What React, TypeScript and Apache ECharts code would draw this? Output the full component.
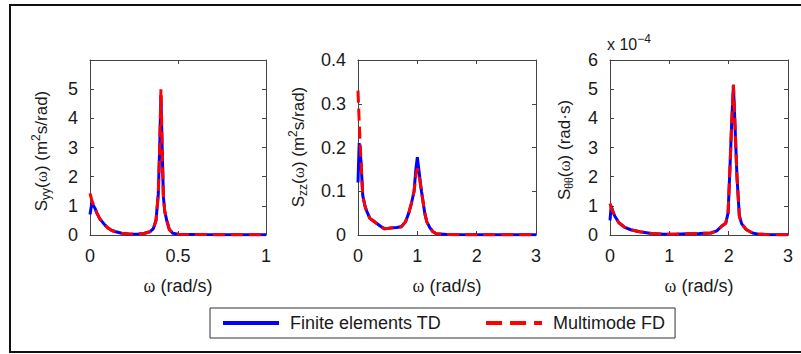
import { useEffect, useRef } from 'react';
import * as echarts from 'echarts';

// Sway spectrum S_yy (m^2 s/rad) over ω (rad/s)
const syyOmega = [0, 0.01, 0.02, 0.028, 0.04, 0.055, 0.07, 0.085, 0.1, 0.12, 0.14, 0.18, 0.22, 0.27, 0.31, 0.34, 0.36, 0.375, 0.388, 0.396, 0.403, 0.41, 0.417, 0.425, 0.436, 0.45, 0.47, 0.5, 0.6, 0.8, 1.0];
const syyTD = [0.7, 1.08, 1.0, 0.92, 0.74, 0.56, 0.45, 0.34, 0.25, 0.17, 0.12, 0.06, 0.035, 0.03, 0.06, 0.11, 0.22, 0.5, 1.4, 3.0, 4.8, 3.0, 1.3, 0.8, 0.5, 0.2, 0.06, 0.03, 0.015, 0.01, 0.01];
const syyFD = [1.43, 1.2, 1.03, 0.92, 0.74, 0.56, 0.45, 0.34, 0.25, 0.17, 0.12, 0.06, 0.035, 0.03, 0.06, 0.11, 0.22, 0.5, 1.4, 3.0, 5.0, 3.0, 1.3, 0.8, 0.5, 0.2, 0.06, 0.03, 0.015, 0.01, 0.01];

// Heave spectrum S_zz (m^2 s/rad)
const szzOmega = [0, 0.02, 0.05, 0.08, 0.12, 0.14, 0.2, 0.25, 0.3, 0.38, 0.45, 0.55, 0.65, 0.73, 0.8, 0.855, 0.9, 0.945, 0.975, 1.0, 1.025, 1.07, 1.125, 1.16, 1.21, 1.26, 1.32, 1.5, 2.0, 2.5, 3.0];
const szzTD = [0.12, 0.21, 0.17, 0.09, 0.065, 0.057, 0.038, 0.033, 0.028, 0.02, 0.014, 0.016, 0.017, 0.019, 0.03, 0.05, 0.072, 0.1, 0.15, 0.178, 0.15, 0.1, 0.05, 0.03, 0.017, 0.008, 0.003, 0.001, 0.0005, 0.0003, 0.0003];
const szzFD = [0.33, 0.26, 0.17, 0.09, 0.065, 0.057, 0.038, 0.033, 0.028, 0.02, 0.014, 0.016, 0.017, 0.019, 0.03, 0.05, 0.072, 0.1, 0.135, 0.152, 0.14, 0.1, 0.05, 0.03, 0.017, 0.008, 0.003, 0.001, 0.0005, 0.0003, 0.0003];

// Roll spectrum S_θθ (rad·s), in units of 10^-4
const sttOmegaTD = [0, 0.02, 0.05, 0.08, 0.15, 0.25, 0.35, 0.5, 0.7, 0.9, 1.1, 1.3, 1.5, 1.7, 1.8, 1.88, 1.95, 1.99, 2.02, 2.05, 2.08, 2.11, 2.14, 2.18, 2.22, 2.3, 2.4, 2.5, 2.7, 3.0];
const sttTD = [0.5, 1.0, 0.8, 0.65, 0.42, 0.26, 0.18, 0.11, 0.05, 0.03, 0.03, 0.04, 0.05, 0.07, 0.14, 0.3, 0.4, 0.75, 2.2, 3.8, 5.15, 3.6, 2.0, 0.65, 0.38, 0.18, 0.07, 0.03, 0.012, 0.005];
const sttOmegaFD = [0, 0.03, 0.08, 0.15, 0.25, 0.35, 0.5, 0.7, 0.9, 1.1, 1.3, 1.5, 1.7, 1.8, 1.88, 1.95, 1.99, 2.02, 2.05, 2.08, 2.11, 2.14, 2.18, 2.22, 2.3, 2.4, 2.5, 2.7, 3.0];
const sttFD = [1.08, 0.88, 0.65, 0.42, 0.26, 0.18, 0.11, 0.05, 0.03, 0.03, 0.04, 0.05, 0.07, 0.14, 0.3, 0.4, 0.75, 2.2, 3.8, 5.15, 3.6, 2.0, 0.65, 0.38, 0.18, 0.07, 0.03, 0.012, 0.005];

const seriesNames = ['Finite elements TD', 'Multimode FD'];

const SANS = '"Liberation Sans", Arial, Helvetica, sans-serif';
const SERIF = '"Liberation Serif", "Times New Roman", serif';
const INK = '#1a1a1a';
const AXIS = '#444';
const FS = 18;

const pairs = (xs: number[], ys: number[]) => xs.map((x, i) => [x, ys[i]]);

type Panel = {
  grid: { left: number; top: number; width: number; height: number };
  xMax: number;
  xStep: number;
  yMax: number;
  yStep: number;
  hideTopLabel: boolean;
  td: number[][];
  fd: number[][];
  yLabel: string;
};

const panels: Panel[] = [
  {
    grid: { left: 90, top: 60, width: 176, height: 175 },
    xMax: 1, xStep: 0.5, yMax: 6, yStep: 1, hideTopLabel: true,
    td: pairs(syyOmega, syyTD), fd: pairs(syyOmega, syyFD),
    yLabel: '{n|S}{sub|yy}{n|(}{w|ω}{n|) (m}{sup|2}{n|s/rad)}',
  },
  {
    grid: { left: 358, top: 60, width: 178, height: 175 },
    xMax: 3, xStep: 1, yMax: 0.4, yStep: 0.1, hideTopLabel: false,
    td: pairs(szzOmega, szzTD), fd: pairs(szzOmega, szzFD),
    yLabel: '{n|S}{sub|zz}{n|(}{w|ω}{n|) (m}{sup|2}{n|s/rad)}',
  },
  {
    grid: { left: 610, top: 60, width: 178, height: 175 },
    xMax: 3, xStep: 1, yMax: 6, yStep: 1, hideTopLabel: false,
    td: pairs(sttOmegaTD, sttTD), fd: pairs(sttOmegaFD, sttFD),
    yLabel: '{n|S}{subw|θθ}{n|(}{w|ω}{n|) (rad·s)}',
  },
];

const yLabelCenters = [
  [41, 151],
  [298, 147],
  [564, 150],
];

const richText = {
  n: { fontSize: 17, fontFamily: SANS, fill: INK, lineHeight: 22 },
  w: { fontSize: 17, fontFamily: SERIF, fill: INK, lineHeight: 22 },
  sub: { fontSize: 12, fontFamily: SANS, fill: INK, lineHeight: 12, verticalAlign: 'bottom' },
  subw: { fontSize: 12, fontFamily: SERIF, fill: INK, lineHeight: 12, verticalAlign: 'bottom' },
  sup: { fontSize: 12, fontFamily: SANS, fill: INK, lineHeight: 12, verticalAlign: 'top' },
};

function buildOption() {
  const grid = panels.map((p) => ({ ...p.grid, containLabel: false }));
  const xAxis: any[] = [];
  const yAxis: any[] = [];
  const series: any[] = [];
  const line = { show: true, onZero: false, lineStyle: { color: AXIS, width: 1 } };
  const tick = { show: true, inside: true, length: 4, lineStyle: { color: AXIS } };

  panels.forEach((p, i) => {
    const base = { type: 'value', gridIndex: i, min: 0, splitLine: { show: false }, axisLine: line, axisTick: tick };
    xAxis.push({
      ...base, max: p.xMax, interval: p.xStep, position: 'bottom',
      axisLabel: { show: true, margin: 12, fontSize: FS, fontFamily: SANS, color: INK, showMinLabel: true, showMaxLabel: true },
    });
    xAxis.push({ ...base, max: p.xMax, interval: p.xStep, position: 'top', axisLabel: { show: false } });
    yAxis.push({
      ...base, max: p.yMax, interval: p.yStep, position: 'left',
      axisLabel: {
        show: true, margin: 12, fontSize: FS, fontFamily: SANS, color: INK,
        formatter: (v: number) => (p.hideTopLabel && v === p.yMax ? '' : String(+v.toFixed(2))),
      },
    });
    yAxis.push({ ...base, max: p.yMax, interval: p.yStep, position: 'right', axisLabel: { show: false } });

    series.push({
      name: seriesNames[0], type: 'line', xAxisIndex: 2 * i, yAxisIndex: 2 * i,
      data: p.td, symbol: 'none', smooth: false,
      lineStyle: { color: '#0000ff', width: 3, type: 'solid' }, itemStyle: { color: '#0000ff' },
    });
    series.push({
      name: seriesNames[1], type: 'line', xAxisIndex: 2 * i, yAxisIndex: 2 * i,
      data: p.fd, symbol: 'none', smooth: false,
      lineStyle: { color: '#ff0000', width: 3, type: 'dashed' }, itemStyle: { color: '#ff0000' },
    });
  });

  const graphic: any[] = [
    {
      type: 'rect', silent: true,
      shape: { x: 10, y: 5, width: 820, height: 347 },
      style: { fill: 'none', stroke: '#111', lineWidth: 2 },
    },
  ];
  panels.forEach((p, i) => {
    const [cx, cy] = yLabelCenters[i];
    graphic.push({
      type: 'text', silent: true, x: cx, y: cy, rotation: Math.PI / 2,
      style: { text: p.yLabel, rich: richText, align: 'center', verticalAlign: 'middle' },
    });
    graphic.push({
      type: 'text', silent: true, x: p.grid.left + p.grid.width / 2, y: 286,
      style: {
        text: '{w|ω}{n| (rad/s)}',
        rich: { w: { ...richText.w, fontSize: 18 }, n: { ...richText.n, fontSize: 18 } },
        align: 'center', verticalAlign: 'middle',
      },
    });
  });
  graphic.push({
    type: 'text', silent: true, x: 607, y: 44,
    style: {
      text: '{n|x 10}{sup|−4}',
      rich: { n: { ...richText.n, fontSize: 16 }, sup: richText.sup },
      align: 'left', verticalAlign: 'middle',
    },
  });

  return {
    animation: false,
    backgroundColor: '#fff',
    grid, xAxis, yAxis, series, graphic,
    legend: {
      data: seriesNames,
      left: 210, top: 308,
      orient: 'horizontal',
      itemWidth: 56, itemHeight: 14, itemGap: 43,
      padding: [6, 10, 6, 11],
      borderColor: '#333', borderWidth: 1,
      lineStyle: { width: 4 },
      itemStyle: { opacity: 0 },
      textStyle: { fontSize: 18, fontFamily: SANS, color: INK, padding: [0, 0, 0, 6] },
      selectedMode: false,
    },
  };
}

export default function App() {
  const ref = useRef<HTMLDivElement>(null);
  useEffect(() => {
    const chart = echarts.init(ref.current!, null, { renderer: 'svg' });
    chart.setOption(buildOption() as any);
    return () => chart.dispose();
  }, []);
  return (
    <div
      ref={ref}
      style={{ position: 'fixed', left: 0, top: 0, width: 801, height: 354, background: '#fff' }}
    />
  );
}
